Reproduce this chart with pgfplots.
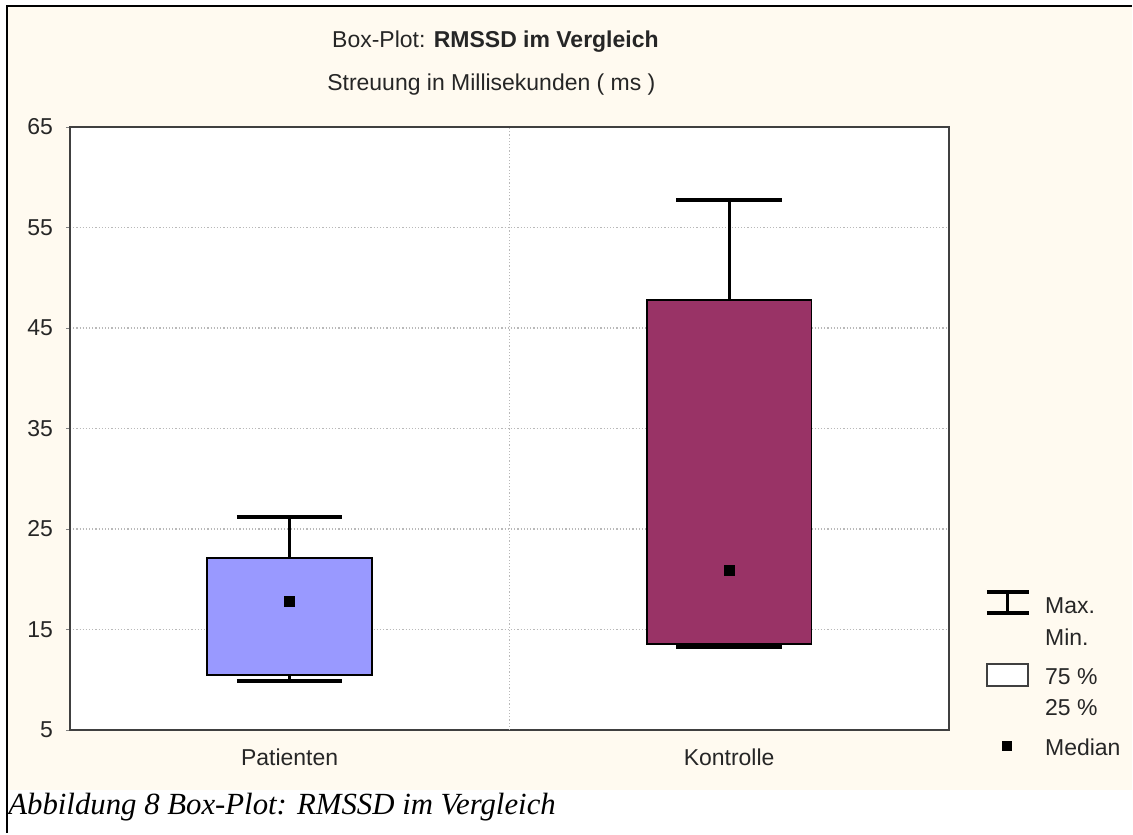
\documentclass[border=0pt]{standalone}
\usepackage{pgfplots}
\pgfplotsset{compat=1.18}
\usepackage{fontspec}
\setmainfont{Liberation Sans}
\newfontfamily\capfont{Liberation Serif}
\definecolor{cream}{RGB}{255,250,240}
\definecolor{boxblue}{RGB}{153,153,255}
\definecolor{boxpurple}{RGB}{153,51,102}
\definecolor{framegray}{RGB}{64,64,64}
\begin{document}
\begin{tikzpicture}[x=0.5pt,y=0.5pt]
\fill[white] (0,0) rectangle (1133,834);
\fill[cream] (8,43) rectangle (1133,827);
\draw[line width=1.4pt] (7,0) -- (7,828) -- (1133,828);
\begin{axis}[at={(35pt,51.5pt)}, anchor=south west, scale only axis,
  width=440pt, height=302pt,
  xmin=0.5, xmax=2.5, ymin=5, ymax=65,
  xtick={1,2}, xticklabels={Patienten,Kontrolle},
  ytick={5,15,...,65},
  ytick pos=left, tick align=outside, major tick length=2pt,
  x tick style={draw=none},
  extra x ticks={1.5}, extra x tick labels={},
  extra x tick style={grid=major, tick align=inside, major tick length=3pt, tick style={draw=framegray, line width=0.8pt}},
  ymajorgrids,
  grid style={gray!55, line width=0.6pt, dash pattern=on 0.6pt off 1pt},
  axis line style={framegray, line width=1pt},
  axis background/.style={fill=white},
  tick label style={font=\fontsize{11.5}{13}\selectfont, text=black!85},
  /pgf/number format/assume math mode=true,
  yticklabel style={xshift=-3pt},
  xticklabel style={yshift=-4pt},
]
% Patienten: min 9.9, Q1 10.5, median 17.8, Q3 22.1, max 26.2
\addplot[black, line width=1.4pt] coordinates {(1,22.1) (1,26.2)};
\addplot[black, line width=1.4pt] coordinates {(1,10.5) (1,9.9)};
\addplot[fill=boxblue, draw=black, line width=0.9pt] coordinates {(0.8125,10.5) (1.1875,10.5) (1.1875,22.1) (0.8125,22.1)} -- cycle;
\addplot[black, line width=2pt] coordinates {(0.88,26.2) (1.12,26.2)};
\addplot[black, line width=2pt] coordinates {(0.88,9.9) (1.12,9.9)};
% Kontrolle: min 13.3, Q1 13.6, median 20.9, Q3 47.8, max 57.7
\addplot[black, line width=1.4pt] coordinates {(2,47.8) (2,57.7)};
\addplot[fill=boxpurple, draw=black, line width=0.9pt] coordinates {(1.8125,13.6) (2.1875,13.6) (2.1875,47.8) (1.8125,47.8)} -- cycle;
\addplot[black, line width=2pt] coordinates {(1.88,57.7) (2.12,57.7)};
\addplot[black, line width=2pt] coordinates {(1.88,13.3) (2.12,13.3)};
% medians
\addplot[only marks, mark=square*, mark size=2.5pt, black] coordinates {(1,17.8) (2,20.9)};
\end{axis}
% titles
\node[font=\fontsize{11.5}{13}\selectfont, text=black!85] at (496,792) {Box-Plot: \textbf{RMSSD im Vergleich}};
\node[font=\fontsize{11.5}{13}\selectfont, text=black!85] at (492,749) {Streuung in Millisekunden ( ms )};
% legend
\draw[line width=1.8pt] (988,241) -- (1030,241);
\draw[line width=1.8pt] (988,220) -- (1030,220);
\draw[line width=1.5pt] (1009,241) -- (1009,220);
\draw[fill=white, draw=framegray, line width=0.9pt] (988,147) rectangle (1029,169);
\fill[black] (1003,82) rectangle (1013,92);
\begin{scope}[every node/.style={anchor=west, font=\fontsize{11.5}{13}\selectfont, text=black!85, inner sep=0pt}]
\node at (1046,228) {Max.};
\node at (1046,196) {Min.};
\node at (1046,157) {75 \%};
\node at (1046,126) {25 \%};
\node at (1046,86) {Median};
\end{scope}
% caption
\node[anchor=west, inner sep=0pt, font=\capfont\itshape\fontsize{15.4}{18}\selectfont] at (8,26) {Abbildung 8 Box-Plot: RMSSD im Vergleich};
\end{tikzpicture}
\end{document}
